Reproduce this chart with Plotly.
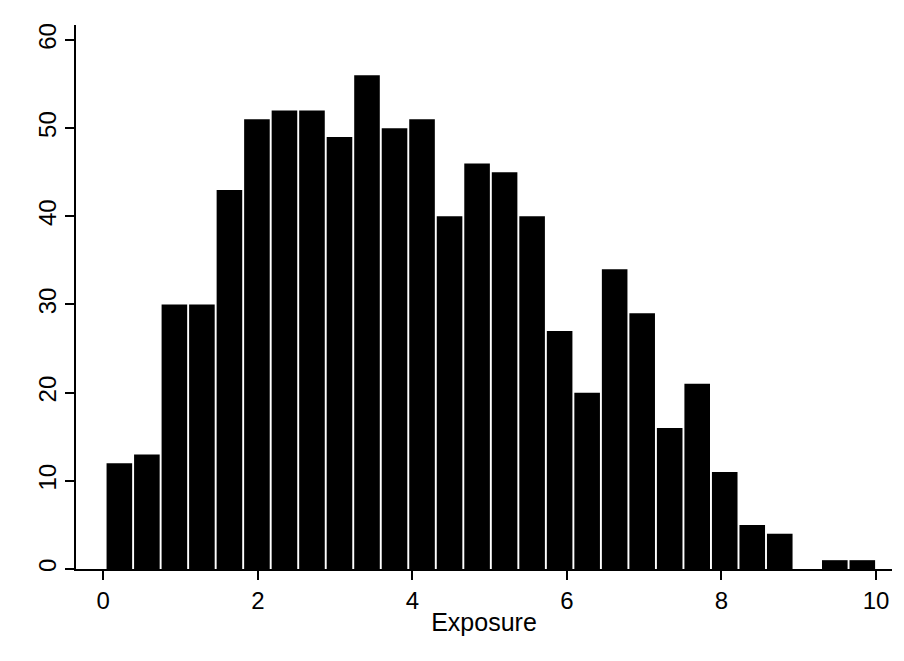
import plotly.graph_objects as go

# Histogram data (frequency per bin)
bin_start = 0.03
bin_width = 0.3561
counts = [12, 13, 30, 30, 43, 51, 52, 52, 49, 56, 50, 51, 40, 46,
          45, 40, 27, 20, 34, 29, 16, 21, 11, 5, 4, 0, 1, 1]
x_ticks = [0, 2, 4, 6, 8, 10]
y_ticks = [0, 10, 20, 30, 40, 50, 60]
x_title = "Exposure"

centers = [bin_start + bin_width * (i + 0.5) for i in range(len(counts))]

fig = go.Figure()
fig.add_trace(go.Bar(
    x=centers,
    y=counts,
    width=[bin_width * 0.93] * len(counts),
    marker=dict(color="black", line=dict(width=0)),
    hoverinfo="x+y",
))

# page body has an 8px default margin; plot area in page px: x 76..892, y 25..569
W, H = 888, 645
font_family = "Liberation Sans, Arial, sans-serif"
fig.update_layout(
    width=W,
    height=H,
    margin=dict(l=68, r=W - 884, t=17, b=H - 561),
    paper_bgcolor="white",
    plot_bgcolor="white",
    showlegend=False,
    font=dict(family=font_family, color="black", size=24),
    xaxis=dict(
        range=[-0.353, 10.207],
        tickvals=x_ticks,
        ticktext=[str(v) for v in x_ticks],
        ticks="outside",
        ticklen=9,
        tickwidth=1.5,
        tickcolor="black",
        showline=True,
        linecolor="black",
        linewidth=1.5,
        showgrid=False,
        zeroline=False,
        tickfont=dict(size=24),
        title=dict(text=x_title, font=dict(size=25), standoff=1),
        automargin=False,
    ),
    yaxis=dict(
        range=[0, 61.7],
        tickvals=y_ticks,
        ticks="outside",
        ticklen=9,
        tickwidth=1.5,
        tickcolor="black",
        tickangle=-90,
        showline=True,
        linecolor="black",
        linewidth=1.5,
        showgrid=False,
        zeroline=False,
        tickfont=dict(size=24),
        automargin=False,
    ),
    shapes=[dict(
        type="rect", xref="paper", yref="paper",
        x0=-69 / 816, x1=1 + 11 / 816,
        y0=-89 / 544, y1=1 + 22 / 544,
        line=dict(color="#e6e6e6", width=1),
        fillcolor="rgba(0,0,0,0)",
        layer="below",
    )],
)

fig.write_html("out.html")
